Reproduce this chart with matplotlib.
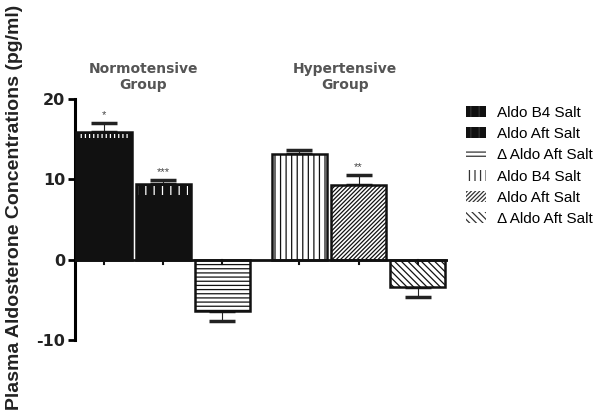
import numpy as np
import matplotlib
matplotlib.use("Agg")
import matplotlib.pyplot as plt
from matplotlib.patches import Patch

plt.rcParams['font.family'] = ['Liberation Sans', 'DejaVu Sans']
plt.rcParams['hatch.linewidth'] = 0.9

## data
labels = ['Aldo B4 Salt', 'Aldo Aft Salt', '\u0394 Aldo Aft Salt',
          'Aldo B4 Salt', 'Aldo Aft Salt', '\u0394 Aldo Aft Salt']
values = [15.9, 9.4, -6.4, 13.1, 9.35, -3.4]
errors = [1.1, 0.5, 1.2, 0.55, 1.15, 1.3]
stars = ['*', '***', '', '', '**', '']
groups = ['Normotensive\nGroup', 'Hypertensive\nGroup']
yticks = [-10, 0, 10, 20]

# styles
xpos = np.array([0, 1, 2, 3.3, 4.3, 5.3])
faces = ['#111111', '#111111', 'white', 'white', 'white', 'white']
hatches = [None, None, '----', '|||', '////////', '\\\\\\\\\\']

fig = plt.figure(figsize=(5.97, 4.19), dpi=100)
ax = fig.add_axes([75/597, 79/419, (448-75)/597, (340-99)/419])

for i in range(len(values)):
    ax.bar(xpos[i], values[i], width=0.93, color=faces[i], edgecolor='#111111',
           hatch=hatches[i], linewidth=1.8, zorder=3)
    # one-sided error bar
    yerr = [[0], [errors[i]]] if values[i] > 0 else [[errors[i]], [0]]
    ax.errorbar(xpos[i], values[i], yerr=yerr, fmt='none', ecolor='#222222',
                elinewidth=0.8, capsize=9.5, capthick=2.5, zorder=2)
    if stars[i]:
        ax.text(xpos[i], values[i] + errors[i] + 0.35, stars[i], ha='center',
                va='bottom', fontsize=8, color='#444444')

# white teeth at the top of the black bars
ax.bar(xpos[0], 0.6, bottom=values[0] - 0.8, width=0.85, color='none',
       edgecolor='white', hatch='||||', linewidth=0, zorder=4)
ax.bar(xpos[1], 1.1, bottom=values[1] - 1.3, width=0.85, color='none',
       edgecolor='white', hatch='||', linewidth=0, zorder=4)

ax.axhline(0, color='#111111', linewidth=2, zorder=5)
for x in xpos:
    ax.plot([x, x], [0, -0.5], color='#111111', linewidth=1.5, zorder=5)

ax.set_xlim(-0.49, 5.81)
ax.set_ylim(-10, 20)
ax.set_xticks([])
ax.set_yticks(yticks)
ax.set_yticklabels([str(t) for t in yticks], fontsize=11.5, fontweight='bold',
                   family='DejaVu Sans', color='#222222')
ax.tick_params(axis='y', length=5, width=2, pad=2)
for s in ['top', 'right', 'bottom']:
    ax.spines[s].set_visible(False)
ax.spines['left'].set_linewidth(2.2)
ax.spines['left'].set_bounds(-10, 20)

fig.text(0.024, 0.505, 'Plasma Aldosterone Concentrations (pg/ml)', rotation=90,
         ha='center', va='center', fontsize=14, fontweight='bold', color='#222222')

fig.text(143/597, 1 - 77/419, groups[0], ha='center', va='center', fontsize=10,
         fontweight='bold', color='#555555', linespacing=1.15, family='DejaVu Sans')
fig.text(345/597, 1 - 77/419, groups[1], ha='center', va='center', fontsize=10,
         fontweight='bold', color='#555555', linespacing=1.15, family='DejaVu Sans')

handles = [Patch(facecolor=faces[i], edgecolor='#333333',
                 hatch=hatches[i] if hatches[i] else '||', linewidth=0)
           for i in range(len(labels))]
fig.legend(handles, labels, loc='upper left', bbox_to_anchor=(466/597, 1 - 106/419),
           frameon=False, fontsize=11, handlelength=1.3, handleheight=0.7,
           handletextpad=0.7, labelspacing=0.47, borderpad=0, borderaxespad=0)

fig.savefig('out.png', dpi=100)
